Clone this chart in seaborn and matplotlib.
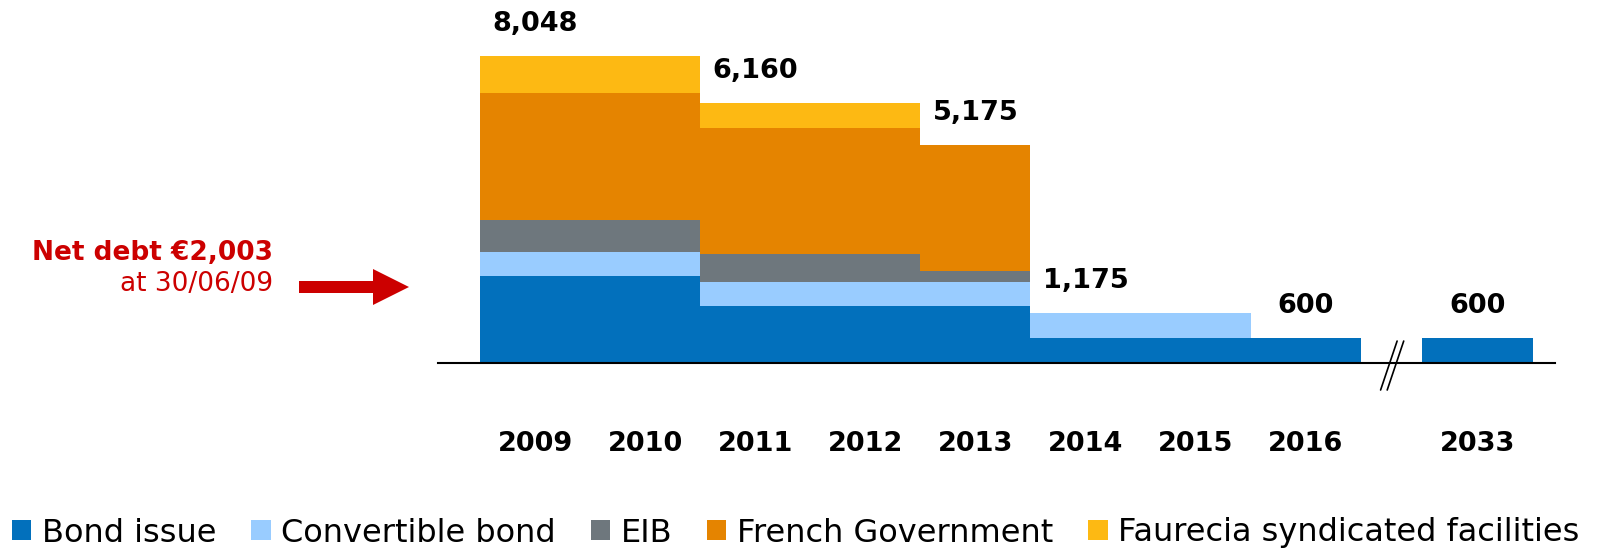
import pandas as pd
import matplotlib
matplotlib.use("Agg")
import matplotlib.pyplot as plt
import matplotlib.transforms as mtransforms
from matplotlib.patches import Patch, FancyArrow
import seaborn as sns

# data (EUR m)
years = ['2009', '2010', '2011', '2012', '2013', '2014', '2015', '2016', '2033']
positions = [0, 1, 2, 3, 4, 5, 6, 7, 8.56]
bond = [2050, 2050, 1340, 1340, 1340, 600, 600, 600, 600]
convertible = [575, 575, 575, 575, 575, 575, 575, 0, 0]
eib = [760, 760, 660, 660, 260, 0, 0, 0, 0]
french_gov = [3000, 3000, 3000, 3000, 3000, 0, 0, 0, 0]
faurecia = [880, 880, 585, 585, 0, 0, 0, 0, 0]
total_labels = ['8,048', '', '6,160', '', '5,175', '1,175', '', '600', '600']

series_names = ['Bond issue', 'Convertible bond', 'EIB', 'French Government',
                'Faurecia syndicated facilities']
series_vals = [bond, convertible, eib, french_gov, faurecia]
colors = ['#0270BC', '#99CCFF', '#6E777D', '#E58400', '#FDB913']
red = '#CC0000'

sns.set_style("white")
plt.rcParams['font.family'] = ['DejaVu Sans']
plt.rcParams['text.color'] = 'black'
plt.rcParams['xtick.color'] = 'black'

fig = plt.figure(figsize=(16.04, 5.49), dpi=100)
ax = fig.add_axes([438 / 1604, 186 / 549, 1117 / 1604, 363 / 549])

df = pd.DataFrame({'pos': positions})
bottom = pd.Series([0] * len(positions), dtype=float)
for name, vals, col in zip(series_names, series_vals, colors):
    df['val'] = vals
    sns.barplot(data=df, x='pos', y='val', native_scale=True, width=1,
                color=col, saturation=1, errorbar=None, bottom=bottom.values,
                linewidth=0, ax=ax)
    bottom = bottom + pd.Series(vals, dtype=float)

# totals above each block
for pos, top, lab in zip(positions, bottom, total_labels):
    if lab:
        ax.annotate(lab, (pos, top), xytext=(0, 23), textcoords='offset points',
                    ha='center', va='center', fontsize=19.5, fontweight='bold',
                    color='black')

ax.set_xlim(-0.881, 9.264)
ax.set_ylim(0, 8600)
ax.set_xticks(positions)
ax.set_xticklabels(years, fontsize=19.5, fontweight='bold', color='black')
ax.tick_params(axis='x', length=0, pad=49)
ax.set_yticks([])
ax.set_xlabel('')
ax.set_ylabel('')
for side in ['left', 'top', 'right']:
    ax.spines[side].set_visible(False)
ax.spines['bottom'].set_color('black')
ax.spines['bottom'].set_linewidth(1.5)

# axis break marks
for c in [7.755, 7.815]:
    ax.plot([c - 0.075, c + 0.075], [-640, 520], color='black', lw=1.2, clip_on=False)

# net debt annotation
fig.text(273 / 1604, 296 / 549, 'Net debt €2,003', ha='right', va='center',
         fontsize=19, fontweight='bold', color=red)
fig.text(273 / 1604, 265 / 549, 'at 30/06/09', ha='right', va='center',
         fontsize=19, color=red)
fig.add_artist(FancyArrow(299, 262, 110, 0, width=12, head_width=36, head_length=36,
                          length_includes_head=True, color=red, linewidth=0,
                          transform=mtransforms.IdentityTransform()))

handles = [Patch(facecolor=c, edgecolor='none') for c in colors]
fig.legend(handles, series_names, loc='center left', bbox_to_anchor=(12 / 1604, 16 / 549),
           ncol=5, frameon=False, fontsize=23, handlelength=0.6, handleheight=0.6,
           handletextpad=0.33, columnspacing=1.1, borderpad=0, borderaxespad=0,
           labelcolor='black')

fig.savefig('out.png', dpi=100)
